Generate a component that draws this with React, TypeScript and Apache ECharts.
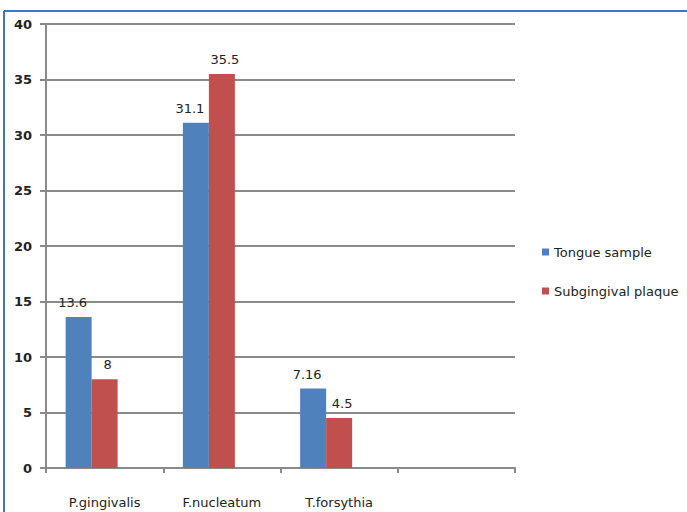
import React, { useEffect, useRef } from "react";
import * as echarts from "echarts";

const categories = ["P.gingivalis", "F.nucleatum", "T.forsythia", ""];
const tongueSample = [13.6, 31.1, 7.16, null];
const subgingivalPlaque = [8, 35.5, 4.5, null];
// Empty third series slot (present but blank in the original chart)
const emptySeries = [null, null, null, null];
const tongueLabels = ["13.6", "31.1", "7.16", ""];
const plaqueLabels = ["8", "35.5", "4.5", ""];
const seriesNames = ["Tongue sample", "Subgingival plaque"];

const FONT = "'DejaVu Sans', sans-serif";

export default function App() {
  const ref = useRef<HTMLDivElement>(null);
  useEffect(() => {
    if (!ref.current) return;
    const chart = echarts.init(ref.current, null, { renderer: "svg" });
    const labelBase = {
      show: true,
      position: "top",
      distance: 8,
      fontFamily: FONT,
      fontSize: 13,
      color: "#222",
    };
    chart.setOption({
      animation: false,
      backgroundColor: "#ffffff",
      grid: { left: 46, right: 172, top: 24, bottom: 44 },
      legend: {
        orient: "vertical",
        left: 537,
        top: 239,
        itemWidth: 7,
        itemHeight: 7,
        itemGap: 23,
        icon: "rect",
        textStyle: { fontFamily: FONT, fontSize: 13, lineHeight: 16, color: "#222" },
        data: seriesNames,
      },
      xAxis: {
        type: "category",
        data: categories,
        axisLine: { lineStyle: { color: "#8a8a8a", width: 2 } },
        axisTick: { show: true, length: 5, lineStyle: { color: "#8a8a8a", width: 2 } },
        axisLabel: { fontFamily: FONT, fontSize: 13, color: "#222", margin: 28 },
      },
      yAxis: {
        type: "value",
        min: 0,
        max: 40,
        interval: 5,
        axisLine: { show: true, lineStyle: { color: "#8a8a8a", width: 2 } },
        axisTick: { show: true, length: 6, lineStyle: { color: "#8a8a8a", width: 2 } },
        splitLine: { lineStyle: { color: "#8a8a8a", width: 2 } },
        axisLabel: { fontFamily: FONT, fontSize: 13, color: "#222", margin: 14, fontWeight: "bold" },
      },
      series: [
        {
          name: seriesNames[0],
          type: "bar",
          data: tongueSample,
          barWidth: 26,
          barGap: "0%",
          itemStyle: { color: "#4F81BD" },
          label: { ...labelBase, offset: [-6, 0], formatter: (p: any) => tongueLabels[p.dataIndex] },
        },
        {
          name: seriesNames[1],
          type: "bar",
          data: subgingivalPlaque,
          barWidth: 26,
          barGap: "0%",
          itemStyle: { color: "#C0504D" },
          label: { ...labelBase, offset: [3, 0], formatter: (p: any) => plaqueLabels[p.dataIndex] },
        },
        {
          name: "",
          type: "bar",
          data: emptySeries,
          barWidth: 26,
          barGap: "0%",
          itemStyle: { color: "#9BBB59" },
        },
      ],
      graphic: [
        {
          type: "line",
          shape: { x1: 4, y1: 11, x2: 687, y2: 11 },
          style: { stroke: "#4472C4", lineWidth: 2 },
        },
        {
          type: "line",
          shape: { x1: 4, y1: 11, x2: 4, y2: 512 },
          style: { stroke: "#4472C4", lineWidth: 2 },
        },
      ],
    });
    return () => chart.dispose();
  }, []);
  return (
    <div
      ref={ref}
      style={{ position: "fixed", left: 0, top: 0, width: 687, height: 512 }}
    />
  );
}
